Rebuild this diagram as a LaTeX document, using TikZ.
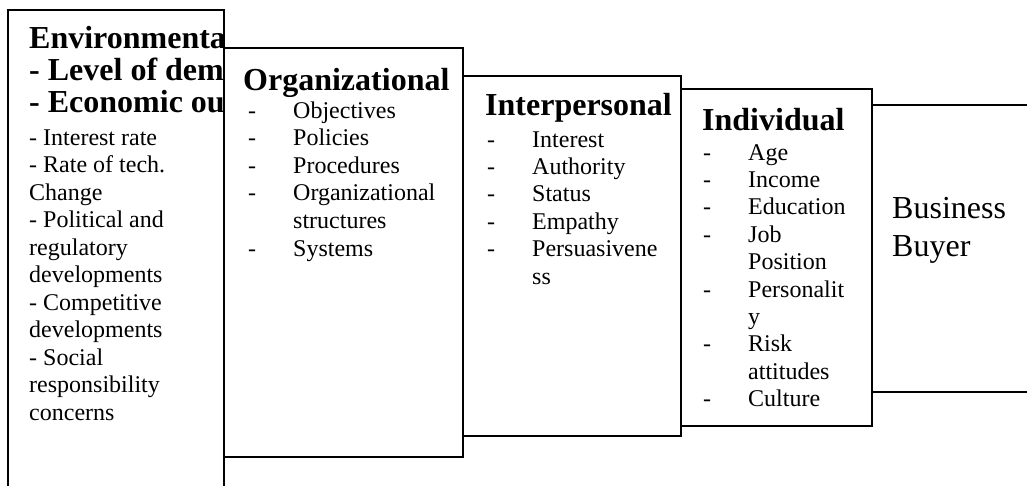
\documentclass[tikz,border=0pt]{standalone}
\usepackage{fontspec}
\setmainfont{Liberation Serif}
\begin{document}
\begin{tikzpicture}[x=1pt,y=-1pt,
  box/.style={draw=black,line width=1.8pt,fill=white},
  rule/.style={draw=black,line width=1.8pt},
  title/.style={anchor=base west,inner sep=0pt,font=\fontsize{32}{36}\selectfont\bfseries},
  body/.style={anchor=base west,inner sep=0pt,font=\fontsize{24}{27}\selectfont},
  buyer/.style={anchor=base west,inner sep=0pt,font=\fontsize{32}{38}\selectfont}]
\useasboundingbox (0,0) rectangle (1027,485);
\clip (0,0) rectangle (1027,485);
\fill[white] (0,0) rectangle (1027,485);
% Environmental
\draw[box] (8,10) rectangle (224,520);
\begin{scope}
\clip (8,10) rectangle (223,520);
\node[title] (e1) at (29,48) {Environmenta};
\node[title] (e2) at (29,80) {- Level of dem};
\node[title] (e3) at (29,112) {- Economic ou};
\foreach \t [count=\k from 0] in {- Interest rate,- Rate of tech.,Change,- Political and,regulatory,developments,- Competitive,developments,- Social,responsibility,concerns}
  \node[body] (eb\k) at (29,145+27.5*\k) {\t};
\end{scope}
% Organizational
\draw[box] (224,48) rectangle (463,457);
\node[title] (o0) at (243,90) {Organizational};
\foreach \d/\t [count=\k from 0] in {-/Objectives,-/Policies,-/Procedures,-/Organizational,/structures,-/Systems}{
  \node[body] (od\k) at (248,118+27.6*\k) {\d};
  \node[body] (ot\k) at (293,118+27.6*\k) {\t};
}
% Interpersonal
\draw[box] (463,76) rectangle (681,436);
\node[title] (p0) at (485,115) {Interpersonal};
\foreach \d/\t [count=\k from 0] in {-/Interest,-/Authority,-/Status,-/Empathy,-/Persuasivene,/ss}{
  \node[body] (pd\k) at (487,147+27.4*\k) {\d};
  \node[body] (pt\k) at (532,147+27.4*\k) {\t};
}
% Individual
\draw[box] (681,89) rectangle (872,426);
\node[title] (i0) at (702,130) {Individual};
\foreach \d/\t [count=\k from 0] in {-/Age,-/Income,-/Education,-/Job,/Position,-/Personalit,/y,-/Risk,/attitudes,-/Culture}{
  \node[body] (id\k) at (703,160+27.4*\k) {\d};
  \node[body] (it\k) at (748,160+27.4*\k) {\t};
}
% Business buyer
\coordinate (bt1) at (872,105);
\coordinate (bt2) at (1027,105);
\coordinate (bb1) at (872,392);
\coordinate (bb2) at (1027,392);
\draw[rule] (bt1) -- (bt2);
\draw[rule] (bb1) -- (bb2);
\node[buyer] (b1) at (892,218) {Business};
\node[buyer] (b2) at (892,256) {Buyer};
\end{tikzpicture}
\end{document}
